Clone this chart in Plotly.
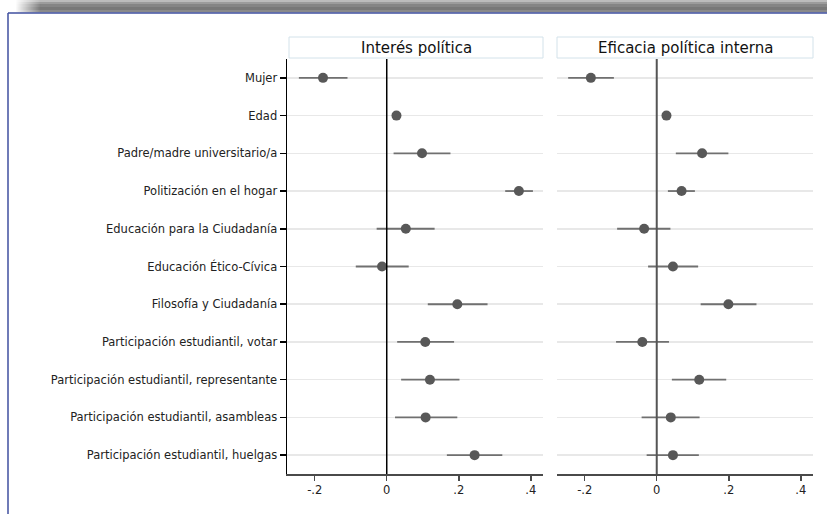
import plotly.graph_objects as go

W, H = 827, 514

categories = [
    "Mujer",
    "Edad",
    "Padre/madre universitario/a",
    "Politización en el hogar",
    "Educación para la Ciudadanía",
    "Educación Ético-Cívica",
    "Filosofía y Ciudadanía",
    "Participación estudiantil, votar",
    "Participación estudiantil, representante",
    "Participación estudiantil, asambleas",
    "Participación estudiantil, huelgas",
]

panel_titles = ["Interés política", "Eficacia política interna"]

# Interés política
interes_coef = [-0.177, 0.027, 0.098, 0.367, 0.053, -0.013, 0.196, 0.107, 0.120, 0.108, 0.244]
interes_lo = [-0.244, 0.022, 0.019, 0.329, -0.028, -0.086, 0.114, 0.029, 0.040, 0.023, 0.167]
interes_hi = [-0.109, 0.032, 0.177, 0.406, 0.133, 0.061, 0.280, 0.187, 0.202, 0.196, 0.321]

# Eficacia política interna
eficacia_coef = [-0.183, 0.027, 0.126, 0.069, -0.035, 0.045, 0.199, -0.040, 0.118, 0.039, 0.045]
eficacia_lo = [-0.246, 0.022, 0.053, 0.031, -0.110, -0.024, 0.122, -0.113, 0.042, -0.042, -0.028]
eficacia_hi = [-0.119, 0.032, 0.199, 0.106, 0.038, 0.115, 0.277, 0.034, 0.193, 0.119, 0.117]

x_tickvals = [-0.2, 0, 0.2, 0.4]
x_ticktext = ["-.2", "0", ".2", ".4"]

FONT = "DejaVu Sans"
DOT = "#585858"
CI = "#707070"

fig = go.Figure()


def add_panel(coef, lo, hi, xa, ya):
    fig.add_trace(go.Scatter(
        x=coef, y=categories, mode="markers",
        xaxis=xa, yaxis=ya,
        marker=dict(color=DOT, size=10, line=dict(width=0)),
        error_x=dict(type="data", symmetric=False,
                     array=[h - c for h, c in zip(hi, coef)],
                     arrayminus=[c - l for c, l in zip(coef, lo)],
                     color=CI, thickness=1.8, width=0),
        showlegend=False, hoverinfo="skip",
    ))


add_panel(interes_coef, interes_lo, interes_hi, "x", "y")
add_panel(eficacia_coef, eficacia_lo, eficacia_hi, "x2", "y2")

px = lambda v: v / W
py = lambda v: (H - v) / H

ydom = [py(474), py(59)]
xrange_ = [-0.277, 0.434]

common_x = dict(range=xrange_, tickvals=x_tickvals, ticktext=x_ticktext,
                showgrid=False, zeroline=False, showline=True, linecolor="#4a4a4a",
                linewidth=1.5, ticks="outside", ticklen=5, tickwidth=1.5,
                tickcolor="#4a4a4a", tickfont=dict(family=FONT, size=11.5, color="#222"),
                fixedrange=True)
common_y = dict(type="category", categoryorder="array", categoryarray=categories,
                range=[10.5, -0.5], showgrid=True, gridcolor="#e8e8e8", gridwidth=1.5,
                zeroline=False, domain=ydom, fixedrange=True)

fig.update_layout(
    width=W, height=H,
    margin=dict(l=0, r=0, t=0, b=0),
    paper_bgcolor="white", plot_bgcolor="white",
    xaxis=dict(domain=[px(287), px(543)], anchor="y", **common_x),
    xaxis2=dict(domain=[px(557), px(813)], anchor="y2", **common_x),
    yaxis=dict(anchor="x", showline=True, linecolor="black", linewidth=1.5,
               ticks="outside", ticklen=6, tickwidth=1.5, tickcolor="black",
               tickfont=dict(family=FONT, size=11.5, color="#222"), **common_y),
    yaxis2=dict(anchor="x2", showline=False, showticklabels=False, ticks="", **common_y),
    font=dict(family=FONT),
)

shapes = []
# window-like frame: grey top bar with a smooth fade on the left
bar_rows = [(0, 2, (188, 188, 188)), (2, 4, (156, 156, 156)), (4, 7, (133, 133, 133)),
            (7, 10, (120, 120, 120)), (10, 12.5, (138, 138, 138))]
x_start, x_full = 16, 40
for y0, y1, (r, g, b) in bar_rows:
    shapes.append(dict(type="rect", xref="paper", yref="paper", x0=px(x_full), x1=1,
                       y0=py(y1), y1=py(y0), fillcolor=f"rgb({r},{g},{b})",
                       line=dict(width=0), layer="below"))
    n = x_full - x_start
    for i in range(n):
        t = (i + 1) / (n + 1)
        c = tuple(int(255 + (v - 255) * t) for v in (r, g, b))
        shapes.append(dict(type="rect", xref="paper", yref="paper",
                           x0=px(x_start + i), x1=px(x_start + i + 1.05),
                           y0=py(y1), y1=py(y0), fillcolor=f"rgb{c}",
                           line=dict(width=0), layer="below"))
shapes.append(dict(type="line", xref="paper", yref="paper", x0=px(8), x1=1, y0=py(13), y1=py(13),
                   line=dict(color="#3f4f9f", width=1.5)))
shapes.append(dict(type="line", xref="paper", yref="paper", x0=px(8), x1=px(8), y0=0, y1=py(13),
                   line=dict(color="#3f4f9f", width=1.5)))

# zero reference lines
shapes.append(dict(type="line", xref="x", yref="y domain", x0=0, x1=0, y0=0, y1=1,
                   line=dict(color="black", width=1.5)))
shapes.append(dict(type="line", xref="x2", yref="y2 domain", x0=0, x1=0, y0=0, y1=1,
                   line=dict(color="#555555", width=2)))

# panel header boxes
for x0, x1 in [(289, 543), (557, 813)]:
    shapes.append(dict(type="rect", xref="paper", yref="paper", x0=px(x0), x1=px(x1),
                       y0=py(58), y1=py(37), fillcolor="white",
                       line=dict(color="#d3e2ea", width=1)))

fig.update_layout(shapes=shapes)

annotations = []
for (x0, x1), t in zip([(289, 543), (557, 813)], panel_titles):
    annotations.append(dict(text=t, xref="paper", yref="paper", x=px((x0 + x1) / 2), y=py(47.5),
                            xanchor="center", yanchor="middle", showarrow=False,
                            font=dict(family=FONT, size=15, color="#111")))
fig.update_layout(annotations=annotations)

fig.write_html("out.html", config={"displayModeBar": False, "staticPlot": True},
               post_script="document.body.style.margin='0';document.body.style.overflow='hidden';")
